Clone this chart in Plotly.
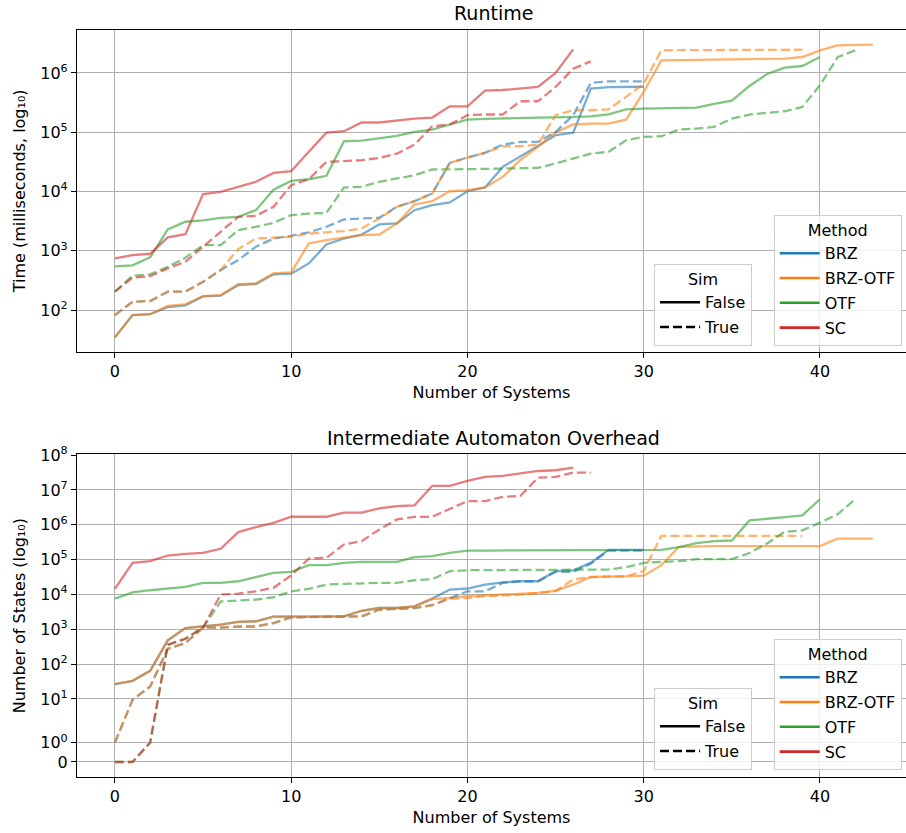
import math
import plotly.graph_objects as go

# ---------------- data ----------------
methods = ["BRZ", "BRZ-OTF", "OTF", "SC"]
sims = ["False", "True"]
x_ticks = [0, 10, 20, 30, 40]

# Runtime (milliseconds), index = number of systems
rt_brz_false = [34.6, 82, 85, 112, 120, 170, 175, 265, 275, 400, 410, 612, 1280, 1610, 1880, 2780,
                2890, 4840, 5890, 6530, 10100, 11700, 26000, 39400, 60400, 89000, 98600, 545000,
                575000, 580000, 585000]
rt_brzotf_false = [34.6, 82, 85, 117, 125, 172, 179, 271, 281, 415, 431, 1330, 1510, 1660, 1840,
                   1880, 2890, 6040, 6880, 10100, 10500, 11700, 17600, 34000, 56600, 98600, 135000,
                   140000, 140000, 163000, 478000, 1630000, 1650000, 1660000, 1670000, 1680000,
                   1700000, 1720000, 1750000, 1860000, 2410000, 2930000, 2950000, 3000000]
rt_otf_false = [545, 566, 773, 2290, 3090, 3250, 3600, 3740, 4850, 10700, 15100, 16100, 18400,
                70500, 72400, 78200, 86700, 101000, 111000, 135000, 163000, 168000, 172000, 175000,
                177000, 178000, 179000, 185000, 201000, 244000, 251000, 254000, 257000, 260000,
                300000, 340000, 604000, 962000, 1230000, 1310000, 1860000]
rt_sc_false = [743, 845, 890, 1680, 1910, 9020, 9870, 12000, 14600, 20600, 22000, 46700, 98600,
               104000, 146000, 146000, 159000, 170000, 177000, 274000, 274000, 504000, 516000,
               545000, 581000, 1000000, 2500000]
rt_brz_true = [82, 138, 142, 204, 204, 300, 473, 697, 1170, 1610, 1790, 2040, 2540, 3370, 3510,
               3600, 5520, 6870, 9250, 30400, 37400, 44900, 61900, 68700, 68700, 101000, 194000,
               678000, 724000, 724000, 724000]
rt_brzotf_true = [82, 138, 142, 204, 204, 300, 473, 1070, 1610, 1660, 1720, 1950, 2040, 2150, 2380,
                  3500, 5520, 6870, 9250, 30400, 37400, 44900, 58000, 58000, 62000, 194000, 235000,
                  235000, 244000, 394000, 661000, 2410000, 2420000, 2420000, 2430000, 2440000,
                  2450000, 2460000, 2460000, 2470000]
rt_otf_true = [204, 379, 399, 537, 762, 1250, 1250, 2230, 2540, 2960, 3990, 4250, 4360, 11700,
               12000, 14600, 16600, 18800, 23500, 23500, 23800, 24000, 24400, 25100, 25100, 29600,
               36000, 43700, 46600, 73300, 83400, 85600, 111000, 115000, 123000, 170000, 199000,
               212000, 226000, 267000, 620000, 1840000, 2410000]
rt_sc_true = [204, 351, 374, 504, 653, 1170, 2090, 3740, 3890, 5520, 12800, 16100, 31600, 32500,
              33700, 36900, 43600, 61900, 126000, 135000, 194000, 199000, 199000, 333000, 333000,
              581000, 1180000, 1570000]

# Number of states
st_brz_false = [26.5, 33, 64, 480, 1080, 1200, 1350, 1620, 1700, 2300, 2300, 2300, 2300, 2350, 3400,
                4080, 4080, 4560, 7600, 13800, 14800, 19200, 22300, 23900, 23900, 46600, 49000,
                80500, 190000, 190000, 190000]
st_brzotf_false = [26.5, 33, 64, 480, 1080, 1200, 1350, 1620, 1700, 2300, 2300, 2300, 2300, 2350,
                   3400, 4080, 4080, 4560, 7400, 7900, 8900, 9300, 9900, 10300, 11000, 12900, 19200,
                   31700, 33200, 33200, 34600, 69000, 233000, 243000, 243000, 243000, 243000,
                   243000, 243000, 243000, 243000, 399000, 399000, 399000]
st_otf_false = [7600, 11500, 13200, 14400, 16400, 21400, 21400, 23900, 31800, 41500, 44300, 69000,
                69000, 80500, 86000, 86000, 86000, 117000, 125000, 156000, 182000, 182000, 182000,
                183000, 183000, 184000, 184000, 185000, 185000, 185000, 186000, 190000, 228000,
                296000, 339000, 353000, 1330000, 1520000, 1660000, 1860000, 5400000]
st_sc_false = [14400, 80500, 90000, 131000, 146000, 156000, 204000, 615000, 857000, 1140000,
               1700000, 1700000, 1700000, 2240000, 2240000, 2960000, 3450000, 3600000, 13100000,
               13100000, 18100000, 23600000, 25200000, 30000000, 35000000, 36700000, 43700000]
st_brz_true = [1, 9.4, 22.7, 275, 400, 1120, 1120, 1200, 1200, 1500, 2200, 2240, 2240, 2240, 2350,
               3630, 3880, 4080, 4900, 7600, 12300, 12300, 21400, 23900, 23900, 44600, 44600, 77000,
               182000, 182000, 182000]
st_brzotf_true = [1, 9.4, 22.7, 275, 400, 1120, 1120, 1200, 1200, 1500, 2200, 2240, 2240, 2240,
                  2350, 3630, 3880, 4080, 4900, 7600, 7900, 8900, 9400, 9900, 11000, 12300, 27000,
                  31200, 33200, 33200, 46600, 480000, 480000, 480000, 480000, 480000, 480000,
                  480000, 480000, 480000]
st_otf_true = [0, 0, 1, 357, 535, 1120, 6300, 6600, 7100, 8300, 12300, 14400, 19200, 20100, 21000,
               21400, 21400, 25500, 27300, 46400, 49500, 49500, 49500, 49500, 49800, 50000, 50500,
               51000, 51800, 60300, 80500, 86100, 90000, 103000, 103000, 103000, 155000, 289000,
               630000, 690000, 1150000, 2000000, 5400000]
st_sc_true = [0, 0, 1, 357, 535, 1120, 10000, 10500, 12300, 15500, 35000, 107000, 112000, 272000,
              337000, 735000, 1420000, 1690000, 1690000, 2890000, 4800000, 4800000, 6300000,
              6700000, 22400000, 23600000, 31600000, 31600000]

rt_series = {("BRZ", "False"): rt_brz_false, ("BRZ-OTF", "False"): rt_brzotf_false,
             ("OTF", "False"): rt_otf_false, ("SC", "False"): rt_sc_false,
             ("BRZ", "True"): rt_brz_true, ("BRZ-OTF", "True"): rt_brzotf_true,
             ("OTF", "True"): rt_otf_true, ("SC", "True"): rt_sc_true}
st_series = {("BRZ", "False"): st_brz_false, ("BRZ-OTF", "False"): st_brzotf_false,
             ("OTF", "False"): st_otf_false, ("SC", "False"): st_sc_false,
             ("BRZ", "True"): st_brz_true, ("BRZ-OTF", "True"): st_brzotf_true,
             ("OTF", "True"): st_otf_true, ("SC", "True"): st_sc_true}

rt_ticks = [1e2, 1e3, 1e4, 1e5, 1e6]
st_ticks = [0, 1, 1e1, 1e2, 1e3, 1e4, 1e5, 1e6, 1e7, 1e8]
st_tick_labels = ["0"] + ["10<sup>%d</sup>" % k for k in range(0, 9)]

# ---------------- style ----------------
colors = {"BRZ": (31, 119, 180), "BRZ-OTF": (255, 127, 14), "OTF": (44, 160, 44), "SC": (214, 39, 40)}
FONT = "DejaVu Sans"
LINTHRESH = 2.0
LINSCALE_ADJ = 1.0 / (1.0 - 0.1)


def symlog(v):
    # matplotlib symlog (base 10, linthresh 2, linscale 1), expressed in decades
    if v <= LINTHRESH:
        return v * LINSCALE_ADJ / LINTHRESH
    return LINSCALE_ADJ + math.log10(v / LINTHRESH)


fig = go.Figure()
DASH = "9px,4px"

for (m, s), vals in rt_series.items():
    r, g, b = colors[m]
    fig.add_trace(go.Scatter(
        x=list(range(len(vals))), y=vals, mode="lines", xaxis="x", yaxis="y",
        line=dict(color="rgba(%d,%d,%d,0.6)" % (r, g, b), width=2.3,
                  dash="solid" if s == "False" else DASH),
        showlegend=False, hoverinfo="skip"))
for (m, s), vals in st_series.items():
    r, g, b = colors[m]
    fig.add_trace(go.Scatter(
        x=list(range(len(vals))), y=[symlog(v) for v in vals], mode="lines", xaxis="x2", yaxis="y2",
        line=dict(color="rgba(%d,%d,%d,0.6)" % (r, g, b), width=2.3,
                  dash="solid" if s == "False" else DASH),
        showlegend=False, hoverinfo="skip"))

# legend entries
for lg_method, lg_sim in (("legend", "legend2"), ("legend3", "legend4")):
    for i, m in enumerate(methods):
        r, g, b = colors[m]
        fig.add_trace(go.Scatter(x=[None], y=[None], mode="lines", name=m, legend=lg_method,
                                 legendgroup=lg_method + m,
                                 line=dict(color="rgb(%d,%d,%d)" % (r, g, b), width=2.6),
                                 xaxis="x", yaxis="y"))
    for s in sims:
        fig.add_trace(go.Scatter(x=[None], y=[None], mode="lines", name=s, legend=lg_sim,
                                 legendgroup=lg_sim + s,
                                 line=dict(color="black", width=2.6,
                                           dash="solid" if s == "False" else DASH),
                                 xaxis="x", yaxis="y"))

W, H = 906, 833
L, R, T, B = 76.7, 0, 30, 56
PH = H - T - B
PW = W - L - R


def py(p):
    return (H - B - p) / PH


def px(p):
    return (p - L) / PW


top_dom = [py(351.7), 1.0]
bot_dom = [0.0, py(454.3)]
x_range = [-2.15, (W - 114.3) / 17.64]

axis_common = dict(showgrid=True, gridcolor="#b0b0b0", gridwidth=1.2, showline=True,
                   linecolor="black", linewidth=1.2, ticks="outside", ticklen=5, tickwidth=1.2,
                   tickcolor="black", tickfont=dict(family=FONT, size=16, color="black"),
                   zeroline=False, automargin=False)

title_font = dict(family=FONT, size=16, color="black")

fig.update_layout(
    width=W, height=H, margin=dict(l=L, r=R, t=T, b=B, pad=0),
    paper_bgcolor="white", plot_bgcolor="white", template="none",
    font=dict(family=FONT, size=16, color="black"),
    xaxis=dict(domain=[0, 1], anchor="y", range=x_range, tickvals=x_ticks, mirror=True,
               title=dict(text="Number of Systems", font=title_font, standoff=6), **axis_common),
    yaxis=dict(domain=top_dom, anchor="x", type="log",
               range=[1.297, 6.725], tickvals=rt_ticks,
               ticktext=["10<sup>%d</sup>" % k for k in range(2, 7)],
               title=dict(text="Time (milliseconds, log₁₀)", font=title_font, standoff=10),
               **axis_common),
    xaxis2=dict(domain=[0, 1], anchor="y2", range=x_range, tickvals=x_ticks, mirror=True,
                title=dict(text="Number of Systems", font=title_font, standoff=6), **axis_common),
    yaxis2=dict(domain=bot_dom, anchor="x2", range=[-0.431, 8.833],
                tickvals=[symlog(v) for v in st_ticks], ticktext=st_tick_labels,
                title=dict(text="Number of States (log₁₀)", font=title_font, standoff=10),
                **axis_common),
    annotations=[
        dict(text="Runtime", x=px(493), y=py(13), xref="paper", yref="paper", showarrow=False,
             xanchor="center", yanchor="middle", font=dict(family=FONT, size=19, color="black")),
        dict(text="Intermediate Automaton Overhead", x=px(493), y=py(438), xref="paper",
             yref="paper", showarrow=False, xanchor="center", yanchor="middle",
             font=dict(family=FONT, size=19, color="black")),
    ],
)

legend_common = dict(bgcolor="rgba(255,255,255,0.8)", bordercolor="#cccccc", borderwidth=1,
                     font=dict(family=FONT, size=16, color="black"), itemwidth=40,
                     xanchor="right", yanchor="bottom", traceorder="grouped", tracegroupgap=1)
fig.update_layout(
    legend=dict(x=px(901.7), y=py(345.5), title=dict(text="Method", side="top center",
                font=dict(family=FONT, size=16)), **legend_common),
    legend2=dict(x=px(752), y=py(345.5), title=dict(text="Sim", side="top center",
                 font=dict(family=FONT, size=16)), **legend_common),
    legend3=dict(x=px(901.7), y=py(769.5), title=dict(text="Method", side="top center",
                 font=dict(family=FONT, size=16)), **legend_common),
    legend4=dict(x=px(752), y=py(769.5), title=dict(text="Sim", side="top center",
                 font=dict(family=FONT, size=16)), **legend_common),
)

fig.write_html("out.html", config={"displayModeBar": False},
               post_script="document.body.style.margin='0px';document.body.style.overflow='hidden';")
